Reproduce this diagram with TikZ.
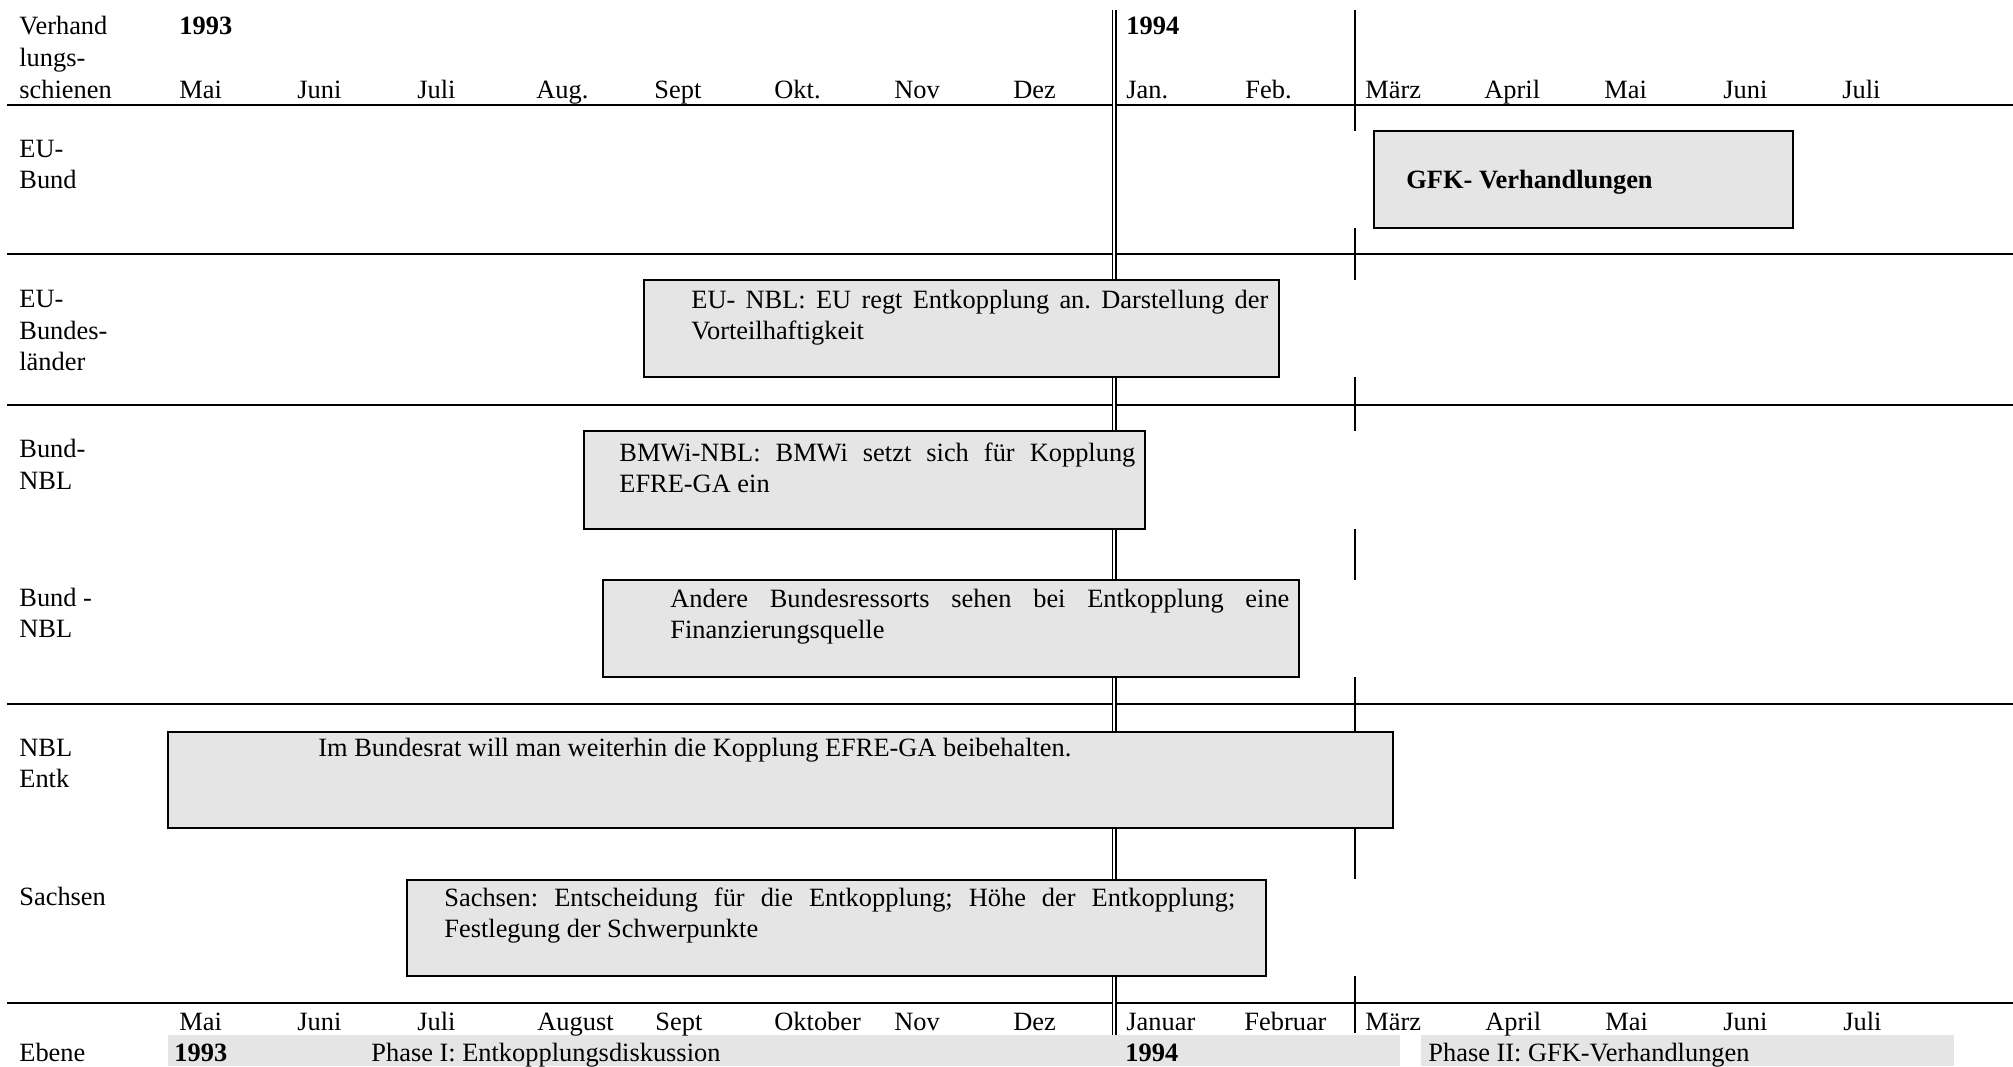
\documentclass[tikz,border=0pt]{standalone}
\usepackage{fontspec}
\setmainfont{Liberation Serif}
\frenchspacing

\begin{document}
\begin{tikzpicture}[x=0.5pt,y=-0.5pt,
  every node/.style={inner sep=0pt,anchor=base west,font=\fontsize{13.2}{15.6}\selectfont},
  boxtxt/.style={align=justify,execute at begin node={\tolerance=10000\relax}},
  box/.style={draw,line width=1pt,fill=black!10},
  sep/.style={line width=1pt}]
\useasboundingbox (0,0) rectangle (2013,1066);
% Phasen unten
\fill[black!10] (168,1035) rectangle (1400,1066);
\fill[black!10] (1421,1035) rectangle (1954,1066);
% Zeilen
\draw[sep] (7,105)--(2013,105);
\draw[sep] (7,254)--(2013,254);
\draw[sep] (7,405)--(2013,405);
\draw[sep] (7,704)--(2013,704);
\draw[sep] (7,1003)--(2013,1003);
% Jahreswechsel und Maerz
\draw[line width=0.7pt,double,double distance=1.1pt] (1114,10)--(1114,1035);
\draw[sep] (1355,10)--(1355,131);
\draw[sep] (1355,228)--(1355,280);
\draw[sep] (1355,377)--(1355,431);
\draw[sep] (1355,529)--(1355,580);
\draw[sep] (1355,677)--(1355,879);
\draw[sep] (1355,976)--(1355,1033);
% Kopfzeile
\node (vh1) at (19,34.5) {Verhand};
\node (vh2) at (19,66) {lungs-};
\node (vh3) at (19,98) {schienen};
\node (j93) at (179,34.5) {\bfseries 1993};
\node (j94) at (1126,34.5) {\bfseries 1994};
\node (mai) at (179,98) {Mai};
\node (jun) at (297,98) {Juni};
\node (jul) at (417,98) {Juli};
\node (aug) at (536,98) {Aug.};
\node (sep) at (654,98) {Sept};
\node (okt) at (774,98) {Okt.};
\node (nov) at (894,98) {Nov};
\node (dez) at (1013,98) {Dez};
\node (jan) at (1126,98) {Jan.};
\node (feb) at (1245,98) {Feb.};
\node (mrz) at (1365,98) {März};
\node (apr) at (1484,98) {April};
\node (mai2) at (1604,98) {Mai};
\node (jun2) at (1723,98) {Juni};
\node (jul2) at (1842,98) {Juli};
% Verhandlungsschienen
\node (eub1) at (19,157) {EU-};
\node (eub2) at (19,188) {Bund};
\node (eul1) at (19,307) {EU-};
\node (eul2) at (19,339) {Bundes-};
\node (eul3) at (19,370) {länder};
\node (bn1) at (19,457) {Bund-};
\node (bn2) at (19,489) {NBL};
\node (bnn1) at (19,606) {Bund -};
\node (bnn2) at (19,637) {NBL};
\node (nbl1) at (19,756) {NBL};
\node (nbl2) at (19,787) {Entk};
\node (sn) at (19,905) {Sachsen};
% Kaesten
\draw[box] (1374,131) rectangle (1793,228);
\node (gfk) at (1406,188) {\bfseries GFK- Verhandlungen};
\draw[box] (644,280) rectangle (1279,377);
\node[boxtxt,text width=288.5pt] (eunbl) at (691,308) {EU- NBL: EU regt Entkopplung an. Darstellung der\linebreak Vorteilhaftigkeit};
\draw[box] (584,431) rectangle (1145,529);
\node[boxtxt,text width=258pt] (bmwi) at (619,461) {BMWi-NBL: BMWi setzt sich für Kopplung\linebreak EFRE-GA ein};
\draw[box] (603,580) rectangle (1299,677);
\node[boxtxt,text width=309.5pt] (andere) at (670,607) {Andere Bundesressorts sehen bei Entkopplung eine\linebreak Finanzierungsquelle};
\draw[box] (168,732) rectangle (1393,828);
\node (brat) at (318,756) {Im Bundesrat will man weiterhin die Kopplung EFRE-GA beibehalten.};
\draw[box] (407,880) rectangle (1266,976);
\node[boxtxt,text width=395.5pt] (sachsen) at (444,906) {Sachsen: Entscheidung für die Entkopplung; Höhe der Entkopplung;\linebreak Festlegung der Schwerpunkte};
% Fusszeile
\node (bmai) at (179,1030) {Mai};
\node (bjun) at (297,1030) {Juni};
\node (bjul) at (417,1030) {Juli};
\node (baug) at (537,1030) {August};
\node (bsep) at (655,1030) {Sept};
\node (bokt) at (774,1030) {Oktober};
\node (bnov) at (894,1030) {Nov};
\node (bdez) at (1013,1030) {Dez};
\node (bjan) at (1126,1030) {Januar};
\node (bfeb) at (1244,1030) {Februar};
\node (bmrz) at (1365,1030) {März};
\node (bapr) at (1485,1030) {April};
\node (bmai2) at (1605,1030) {Mai};
\node (bjun2) at (1723,1030) {Juni};
\node (bjul2) at (1843,1030) {Juli};
\node (ebene) at (19,1061) {Ebene};
\node (b93) at (174,1061) {\bfseries 1993};
\node (ph1) at (371,1061) {Phase I: Entkopplungsdiskussion};
\node (b94) at (1125,1061) {\bfseries 1994};
\node (ph2) at (1428,1061) {Phase II: GFK-Verhandlungen};
\end{tikzpicture}
\end{document}
